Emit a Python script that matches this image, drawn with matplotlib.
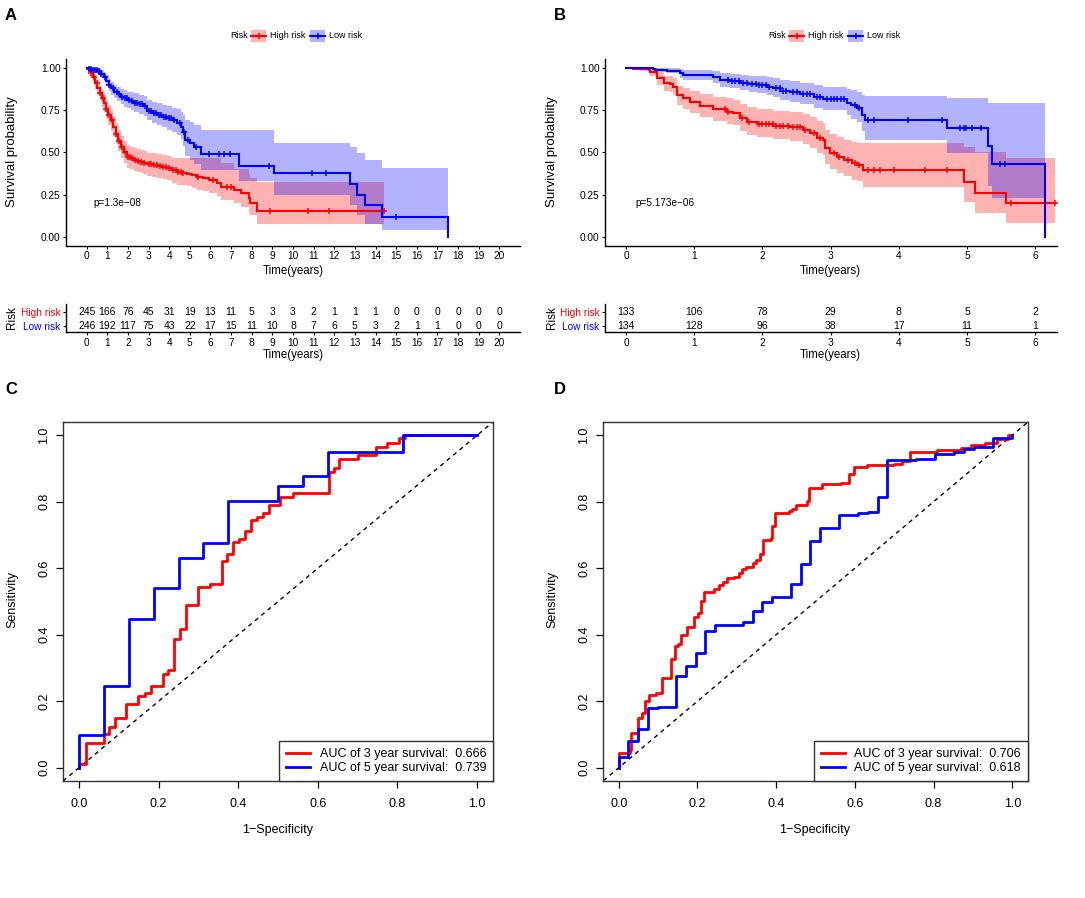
import numpy as np
import matplotlib
matplotlib.use("Agg")
import matplotlib.pyplot as plt
from matplotlib.patches import Rectangle
from matplotlib.lines import Line2D

plt.rcParams['font.family'] = ['Liberation Sans', 'DejaVu Sans']

RED = '#FF0000'
BLUE = '#0000FF'

# ---------------- Panel A: Kaplan-Meier (training) ----------------
A_high_t = [0, 0.1, 0.19, 0.3, 0.4, 0.52, 0.63, 0.74, 0.84, 0.95, 1.05, 1.16, 1.28, 1.40, 1.52, 1.65, 1.8, 1.97, 2.12, 2.29,
            2.45, 2.62, 2.78, 2.94, 3.18, 3.42, 3.66, 3.91, 4.15, 4.39, 4.63, 4.88, 5.12, 5.36, 5.64, 5.92, 6.33, 6.49, 7.13, 7.46,
            7.86, 7.94, 8.27, 14.4]
A_high_s = [1.0, 0.985, 0.969, 0.945, 0.912, 0.88, 0.85, 0.82, 0.79, 0.757, 0.723, 0.69, 0.65, 0.61, 0.57, 0.53, 0.50, 0.475, 0.465, 0.456,
            0.452, 0.446, 0.438, 0.43, 0.425, 0.42, 0.413, 0.406, 0.396, 0.386, 0.38, 0.373, 0.365, 0.357, 0.347, 0.337, 0.318, 0.298, 0.278, 0.258,
            0.229, 0.20, 0.156, 0.156]
A_high_lo = [1.0, 0.97, 0.948, 0.918, 0.878, 0.84, 0.805, 0.772, 0.738, 0.70, 0.665, 0.63, 0.59, 0.55, 0.508, 0.468, 0.437, 0.41, 0.40, 0.39,
             0.385, 0.378, 0.37, 0.36, 0.355, 0.35, 0.342, 0.335, 0.322, 0.31, 0.305, 0.30, 0.29, 0.28, 0.27, 0.26, 0.24, 0.22, 0.20, 0.18,
             0.15, 0.13, 0.075, 0.075]
A_high_hi = [1.0, 1.0, 0.99, 0.972, 0.946, 0.92, 0.895, 0.868, 0.842, 0.81, 0.78, 0.75, 0.71, 0.672, 0.632, 0.595, 0.566, 0.543, 0.535, 0.525,
             0.52, 0.515, 0.508, 0.50, 0.495, 0.49, 0.485, 0.478, 0.47, 0.466, 0.466, 0.466, 0.466, 0.466, 0.466, 0.466, 0.466, 0.44, 0.40, 0.40,
             0.37, 0.35, 0.325, 0.325]
A_high_cens = [0.2, 0.35, 0.5, 0.65, 0.8, 0.95, 1.1, 1.25, 1.4, 1.55, 1.7, 1.85, 2.0, 2.1, 2.2, 2.35, 2.5, 2.65, 2.8, 3.0,
               3.1, 3.25, 3.4, 3.55, 3.7, 3.85, 4.0, 4.2, 4.35, 4.45, 4.55, 4.65, 5.4, 6.1, 6.8, 7.0, 8.9, 10.72, 11.74, 14.4]

A_low_t = [0, 0.1, 0.2, 0.3, 0.42, 0.52, 0.68, 0.84, 0.96, 1.08, 1.2, 1.32, 1.48, 1.65, 1.81, 1.97, 2.13, 2.29, 2.53, 2.78,
           2.94, 3.18, 3.42, 3.66, 3.91, 4.15, 4.39, 4.55, 4.65, 4.79, 5.0, 5.2, 5.52, 7.38, 9.07, 12.78, 13.1, 13.5, 14.3, 17.5]
A_low_s = [1.0, 0.996, 0.993, 0.99, 0.986, 0.982, 0.966, 0.949, 0.925, 0.90, 0.88, 0.86, 0.845, 0.83, 0.82, 0.811, 0.803, 0.795, 0.785, 0.775,
           0.747, 0.735, 0.722, 0.712, 0.702, 0.69, 0.676, 0.653, 0.62, 0.574, 0.555, 0.534, 0.491, 0.422, 0.377, 0.314, 0.249, 0.189, 0.12, 0.0]
A_low_lo = [1.0, 0.99, 0.985, 0.977, 0.97, 0.965, 0.945, 0.922, 0.895, 0.865, 0.842, 0.82, 0.803, 0.785, 0.772, 0.762, 0.752, 0.742, 0.73, 0.718,
            0.69, 0.675, 0.66, 0.648, 0.635, 0.62, 0.605, 0.58, 0.54, 0.48, 0.455, 0.43, 0.396, 0.33, 0.25, 0.19, 0.13, 0.08, 0.04, 0.04]
A_low_hi = [1.0, 1.0, 1.0, 1.0, 1.0, 0.998, 0.988, 0.975, 0.958, 0.935, 0.918, 0.90, 0.888, 0.875, 0.868, 0.86, 0.855, 0.85, 0.843, 0.835,
            0.81, 0.80, 0.79, 0.782, 0.775, 0.765, 0.755, 0.74, 0.72, 0.69, 0.68, 0.66, 0.633, 0.633, 0.556, 0.53, 0.50, 0.457, 0.41, 0.41]
A_low_cens = [0.1, 0.2, 0.3, 0.4, 0.5, 0.6, 0.7, 0.9, 1.1, 1.3, 1.45, 1.55, 1.7, 1.85, 1.95, 2.05, 2.2, 2.35, 2.45, 2.6,
              2.7, 2.85, 3.0, 3.1, 3.25, 3.35, 3.5, 3.6, 3.75, 3.85, 4.0, 4.1, 4.25, 4.5, 4.7, 4.9, 5.3, 5.92, 6.41, 6.65,
              6.97, 8.83, 10.93, 11.62, 15.0]

A_risk_times = list(range(0, 21))
A_risk_high = [245, 166, 76, 45, 31, 19, 13, 11, 5, 3, 3, 2, 1, 1, 1, 0, 0, 0, 0, 0, 0]
A_risk_low = [246, 192, 117, 75, 43, 22, 17, 15, 11, 10, 8, 7, 6, 5, 3, 2, 1, 1, 0, 0, 0]
A_pval = "p=1.3e\u221208"

# ---------------- Panel B: Kaplan-Meier (validation) ----------------
B_high_t = [0, 0.1, 0.2, 0.33, 0.35, 0.45, 0.55, 0.645, 0.69, 0.74, 0.84, 0.94, 1.09, 1.28, 1.48, 1.57, 1.67, 1.77, 1.92, 2.16,
            2.40, 2.60, 2.70, 2.80, 2.89, 2.92, 2.99, 3.09, 3.19, 3.31, 3.38, 3.48, 4.95, 5.12, 5.57, 6.29]
B_high_s = [1.0, 0.995, 0.993, 0.99, 0.978, 0.939, 0.913, 0.905, 0.89, 0.84, 0.82, 0.80, 0.775, 0.755, 0.742, 0.732, 0.702, 0.682, 0.669, 0.657,
            0.649, 0.633, 0.613, 0.584, 0.574, 0.525, 0.495, 0.475, 0.456, 0.436, 0.426, 0.396, 0.327, 0.262, 0.199, 0.199]
B_high_lo = [1.0, 0.985, 0.98, 0.975, 0.955, 0.90, 0.865, 0.855, 0.84, 0.78, 0.76, 0.735, 0.71, 0.685, 0.67, 0.66, 0.625, 0.605, 0.59, 0.578,
             0.568, 0.55, 0.528, 0.498, 0.486, 0.432, 0.40, 0.38, 0.36, 0.34, 0.33, 0.294, 0.209, 0.14, 0.085, 0.085]
B_high_hi = [1.0, 1.0, 1.0, 1.0, 1.0, 0.975, 0.955, 0.95, 0.94, 0.895, 0.88, 0.865, 0.845, 0.83, 0.82, 0.812, 0.785, 0.768, 0.757, 0.748,
             0.742, 0.728, 0.71, 0.685, 0.676, 0.635, 0.61, 0.593, 0.575, 0.562, 0.558, 0.554, 0.535, 0.505, 0.465, 0.465]
B_high_cens = [1.45, 1.5, 1.7, 1.8, 1.95, 2.0, 2.05, 2.1, 2.15, 2.2, 2.25, 2.3, 2.38, 2.45, 2.5, 2.55, 2.62, 2.75, 2.85, 3.05,
               3.12, 3.25, 3.35, 3.42, 3.55, 3.63, 3.72, 3.93, 4.38, 4.70, 5.64, 6.29]

B_low_t = [0, 0.40, 0.43, 0.60, 0.79, 0.84, 1.28, 1.38, 1.52, 1.67, 1.80, 1.92, 2.06, 2.16, 2.26, 2.40, 2.55, 2.75, 2.89, 3.24,
           3.30, 3.38, 3.46, 3.50, 4.71, 5.31, 5.36, 6.14]
B_low_s = [1.0, 0.995, 0.988, 0.984, 0.968, 0.959, 0.945, 0.929, 0.923, 0.913, 0.905, 0.90, 0.89, 0.88, 0.866, 0.856, 0.846, 0.83, 0.817, 0.795,
           0.781, 0.761, 0.722, 0.692, 0.645, 0.538, 0.432, 0.0]
B_low_lo = [1.0, 0.985, 0.975, 0.968, 0.94, 0.928, 0.91, 0.89, 0.882, 0.868, 0.858, 0.85, 0.838, 0.826, 0.81, 0.797, 0.785, 0.765, 0.75, 0.72,
            0.70, 0.68, 0.63, 0.574, 0.50, 0.30, 0.23, 0.23]
B_low_hi = [1.0, 1.0, 1.0, 1.0, 0.995, 0.99, 0.982, 0.97, 0.966, 0.96, 0.955, 0.952, 0.945, 0.938, 0.928, 0.92, 0.912, 0.90, 0.89, 0.878,
            0.87, 0.86, 0.84, 0.834, 0.82, 0.79, 0.79, 0.79]
B_low_cens = [1.50, 1.55, 1.6, 1.65, 1.72, 1.78, 1.85, 1.9, 1.95, 2.0, 2.05, 2.1, 2.2, 2.25, 2.3, 2.35, 2.45, 2.5, 2.6, 2.65,
              2.7, 2.8, 2.85, 2.95, 3.0, 3.05, 3.1, 3.15, 3.2, 3.35, 3.42, 3.55, 3.64, 4.14, 4.63, 4.90, 4.95, 4.99, 5.07, 5.21,
              5.48, 5.56]

B_risk_times = list(range(0, 7))
B_risk_high = [133, 106, 78, 29, 8, 5, 2]
B_risk_low = [134, 128, 96, 38, 17, 11, 1]
B_pval = "p=5.173e\u221206"

# ---------------- Panel C / D: time-dependent ROC ----------------
C_fpr3 = [0, 0, 0.018, 0.063, 0.075, 0.09, 0.119, 0.149, 0.165, 0.18, 0.21, 0.224, 0.239, 0.253, 0.268, 0.298, 0.328, 0.359,
          0.372, 0.388, 0.402, 0.418, 0.433, 0.447, 0.462, 0.477, 0.506, 0.537, 0.627, 0.64, 0.654, 0.70, 0.746, 0.775, 0.805, 0.82, 1.0]
C_tpr3 = [0, 0.01, 0.073, 0.10, 0.123, 0.15, 0.191, 0.215, 0.226, 0.247, 0.281, 0.293, 0.386, 0.417, 0.49, 0.543, 0.553, 0.621,
          0.643, 0.678, 0.688, 0.711, 0.745, 0.755, 0.767, 0.79, 0.813, 0.825, 0.891, 0.903, 0.93, 0.94, 0.966, 0.977, 0.991, 1.0, 1.0]
C_fpr5 = [0, 0, 0.063, 0.126, 0.188, 0.251, 0.312, 0.375, 0.50, 0.562, 0.625, 0.813, 1.0]
C_tpr5 = [0, 0.098, 0.246, 0.446, 0.54, 0.63, 0.675, 0.802, 0.846, 0.879, 0.95, 1.0, 1.0]
C_auc = [0.666, 0.739]

D_fpr3 = [0, 0, 0.028, 0.032, 0.050, 0.058, 0.066, 0.076, 0.094, 0.110, 0.134, 0.142, 0.150, 0.158, 0.174, 0.190, 0.202, 0.208,
          0.216, 0.242, 0.254, 0.266, 0.274, 0.294, 0.306, 0.314, 0.324, 0.342, 0.348, 0.358, 0.366, 0.386, 0.390, 0.398, 0.432,
          0.440, 0.450, 0.478, 0.484, 0.516, 0.566, 0.586, 0.597, 0.632, 0.700, 0.720, 0.740, 0.810, 0.870, 0.895, 0.930, 0.960,
          0.990, 1.0]
D_tpr3 = [0, 0.043, 0.052, 0.103, 0.151, 0.165, 0.201, 0.219, 0.224, 0.27, 0.328, 0.367, 0.372, 0.40, 0.422, 0.454, 0.464, 0.501,
          0.528, 0.538, 0.549, 0.558, 0.57, 0.574, 0.585, 0.599, 0.603, 0.617, 0.626, 0.642, 0.685, 0.691, 0.727, 0.766, 0.771,
          0.778, 0.789, 0.802, 0.84, 0.852, 0.856, 0.883, 0.906, 0.91, 0.913, 0.923, 0.95, 0.955, 0.963, 0.971, 0.978, 0.99,
          1.0, 1.0]
D_fpr5 = [0, 0, 0.024, 0.05, 0.074, 0.099, 0.146, 0.171, 0.196, 0.22, 0.244, 0.316, 0.342, 0.365, 0.39, 0.438, 0.462, 0.487,
          0.511, 0.56, 0.608, 0.634, 0.658, 0.682, 0.755, 0.804, 0.852, 0.878, 0.903, 0.951, 1.0]
D_tpr5 = [0, 0.033, 0.08, 0.117, 0.18, 0.183, 0.276, 0.307, 0.346, 0.41, 0.43, 0.438, 0.47, 0.5, 0.515, 0.553, 0.613, 0.683,
          0.72, 0.76, 0.766, 0.77, 0.813, 0.925, 0.93, 0.943, 0.95, 0.958, 0.966, 0.991, 1.0]
D_auc = [0.706, 0.618]

# ================= drawing =================
W, H = 1085, 898
fig = plt.figure(figsize=(W / 100, H / 100), dpi=100)


def rect(l, t, r, b):
    return [l / W, 1 - b / H, (r - l) / W, (b - t) / H]


def P(x, y):
    return (x / W, 1 - y / H)


def ftext(x, y, s, **kw):
    fig.text(x / W, 1 - y / H, s, **kw)


def km_group(ax, t, s, lo, hi, cens, color):
    t = np.asarray(t); s = np.asarray(s)
    ax.fill_between(t, lo, hi, step='post', color=color, alpha=0.3, lw=0)
    ax.plot(t, s, drawstyle='steps-post', color=color, lw=1.5, solid_joinstyle='miter')
    cens = np.asarray(cens)
    idx = np.searchsorted(t, cens, side='right') - 1
    ax.plot(cens, s[idx], ls='none', marker='+', ms=5, mew=1.1, color=color)


def style_gg(ax):
    for sp in ['top', 'right']:
        ax.spines[sp].set_visible(False)
    for sp in ['left', 'bottom']:
        ax.spines[sp].set_linewidth(1.0)
        ax.spines[sp].set_color('black')
    ax.tick_params(length=2.5, width=0.8, labelsize=7.3, pad=1.5, colors='black')


def km_panel(box, xlim, xticks, high, low, pval, pval_x):
    ax = fig.add_axes(rect(*box))
    km_group(ax, *high, RED)
    km_group(ax, *low, BLUE)
    ax.set_xlim(*xlim)
    ax.set_ylim(-0.05, 1.05)
    ax.set_xticks(xticks)
    ax.set_yticks([0, 0.25, 0.5, 0.75, 1.0])
    ax.set_yticklabels(['0.00', '0.25', '0.50', '0.75', '1.00'])
    style_gg(ax)
    ax.text(pval_x, 0.2, pval, fontsize=7.2, ha='left', va='center')
    return ax


def risk_table(box, xlim, times, high, low):
    ax = fig.add_axes(rect(*box))
    for x, v in zip(times, high):
        ax.text(x, 2, str(v), ha='center', va='center', fontsize=7.5)
    for x, v in zip(times, low):
        ax.text(x, 1, str(v), ha='center', va='center', fontsize=7.5)
    ax.set_xlim(*xlim)
    ax.set_ylim(0.55, 2.6)
    ax.set_xticks(times)
    ax.set_yticks([2, 1])
    ax.set_yticklabels(['High risk', 'Low risk'])
    style_gg(ax)
    labs = ax.get_yticklabels()
    labs[0].set_color(RED)
    labs[1].set_color(BLUE)
    for l in labs:
        l.set_fontsize(7.3)
    return ax


def km_legend(x0, y):
    ftext(x0, y, 'Risk', fontsize=6.5, ha='left', va='center')
    items = [(x0 + 21, RED, 'High risk'), (x0 + 80, BLUE, 'Low risk')]
    for bx, col, lab in items:
        fig.add_artist(Rectangle(P(bx, y + 6), 15 / W, 12 / H, transform=fig.transFigure,
                                 facecolor=col, alpha=0.3, edgecolor='none'))
        fig.add_artist(Line2D([bx / W, (bx + 15) / W], [1 - y / H] * 2, transform=fig.transFigure,
                              color=col, lw=1.5))
        fig.add_artist(Line2D([(bx + 7.5) / W], [1 - y / H], transform=fig.transFigure,
                              color=col, marker='+', ms=5, mew=1.1, ls='none'))
        ftext(bx + 19, y, lab, fontsize=6.5, ha='left', va='center')


# Panel A
km_panel((66, 59.5, 520, 245.5), (-1, 21), A_risk_times,
         (A_high_t, A_high_s, A_high_lo, A_high_hi, A_high_cens),
         (A_low_t, A_low_s, A_low_lo, A_low_hi, A_low_cens), A_pval, 0.35)
risk_table((66, 304, 520, 332), (-1, 21), A_risk_times, A_risk_high, A_risk_low)
km_legend(230, 36)
ftext(12, 152, 'Survival probability', rotation=90, fontsize=9.5, ha='center', va='center')
ftext(293, 271, 'Time(years)', fontsize=8.3, ha='center', va='center')
ftext(293, 355, 'Time(years)', fontsize=8.3, ha='center', va='center')
ftext(12, 318, 'Risk', rotation=90, fontsize=8.5, ha='center', va='center')

# Panel B
km_panel((605, 59.5, 1057, 245.5), (-0.31, 6.32), B_risk_times,
         (B_high_t, B_high_s, B_high_lo, B_high_hi, B_high_cens),
         (B_low_t, B_low_s, B_low_lo, B_low_hi, B_low_cens), B_pval, 0.13)
risk_table((605, 304, 1057, 332), (-0.31, 6.32), B_risk_times, B_risk_high, B_risk_low)
km_legend(768, 36)
ftext(552, 152, 'Survival probability', rotation=90, fontsize=9.5, ha='center', va='center')
ftext(830, 271, 'Time(years)', fontsize=8.3, ha='center', va='center')
ftext(830, 355, 'Time(years)', fontsize=8.3, ha='center', va='center')
ftext(552, 318, 'Risk', rotation=90, fontsize=8.5, ha='center', va='center')


def roc_panel(box, fpr3, tpr3, fpr5, tpr5, auc, xlab_x, ylab_x):
    ax = fig.add_axes(rect(*box))
    ax.plot([-0.5, 1.5], [-0.5, 1.5], color='black', lw=1.0, ls=(0, (3, 3)))
    ax.plot(fpr3, tpr3, drawstyle='steps-post', color=RED, lw=2,
            label='AUC of 3 year survival:  %.3f' % auc[0])
    ax.plot(fpr5, tpr5, drawstyle='steps-post', color=BLUE, lw=2,
            label='AUC of 5 year survival:  %.3f' % auc[1])
    ax.set_xlim(-0.04, 1.04)
    ax.set_ylim(-0.04, 1.04)
    ticks = [0, 0.2, 0.4, 0.6, 0.8, 1.0]
    ax.set_xticks(ticks)
    ax.set_yticks(ticks)
    ax.set_xticklabels(['%.1f' % v for v in ticks])
    ax.set_yticklabels(['%.1f' % v for v in ticks], rotation=90, va='center')
    for sp in ax.spines.values():
        sp.set_linewidth(1.0)
        sp.set_color('#333333')
    ax.tick_params(length=5, width=0.9, labelsize=9)
    ax.tick_params(axis='x', pad=7)
    ax.tick_params(axis='y', pad=4)
    leg = ax.legend(loc='lower right', borderaxespad=0, fancybox=False, framealpha=1,
                    edgecolor='#333333', fontsize=9, handlelength=1.9, handletextpad=0.8,
                    borderpad=0.55, labelspacing=0.15)
    leg.get_frame().set_linewidth(1.0)
    ftext(xlab_x, 830, '1\u2212Specificity', fontsize=9, ha='center', va='center')
    ftext(ylab_x, 600, 'Sensitivity', fontsize=9, rotation=90, ha='center', va='center')
    return ax


roc_panel((63, 422, 493, 781), C_fpr3, C_tpr3, C_fpr5, C_tpr5, C_auc, 278, 12)
roc_panel((603, 422, 1028, 781), D_fpr3, D_tpr3, D_fpr5, D_tpr5, D_auc, 815, 552)

# panel letters
for lab, x, y in [('A', 11, 15), ('B', 560, 15), ('C', 11, 389), ('D', 560, 389)]:
    ftext(x, y, lab, fontsize=12, fontweight='bold', ha='center', va='center')

fig.savefig('out.png', dpi=100)
